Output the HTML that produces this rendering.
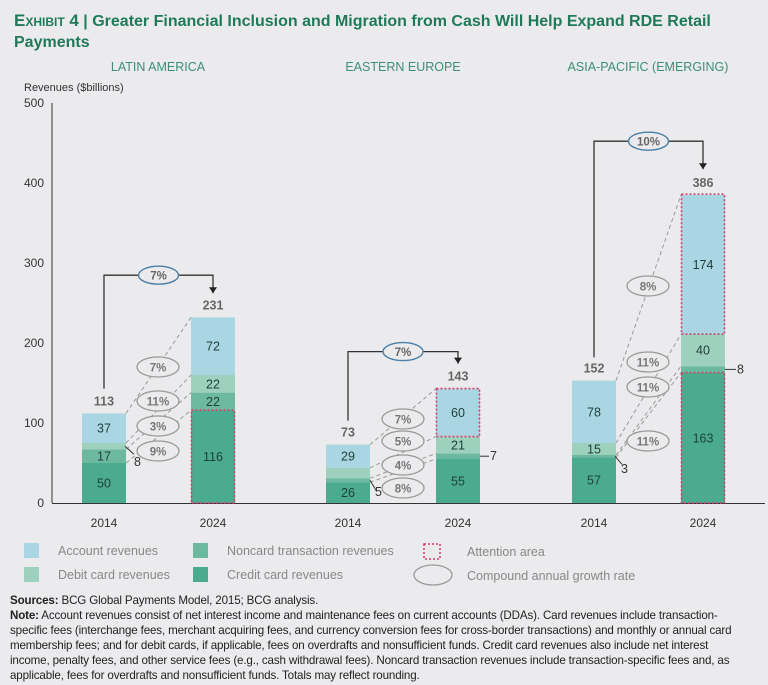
<!DOCTYPE html>
<html><head><meta charset="utf-8">
<style>
body{margin:0;background:#ebebed;font-family:"Liberation Sans",sans-serif;}
#wrap{position:relative;width:768px;height:685px;overflow:hidden;background:#ebebed;}
.title{position:absolute;left:14px;top:10px;width:750px;font-weight:bold;font-size:16px;line-height:21px;color:#1f7a5a;}
.notes{position:absolute;left:10px;top:593px;width:758px;font-size:11.6px;line-height:15px;color:#222;letter-spacing:-0.15px;white-space:nowrap;}
</style></head>
<body>
<div id="wrap">
<div class="title"><span style="font-variant:small-caps;font-size:17px">Exhibit 4</span> | Greater Financial Inclusion and Migration from Cash Will Help Expand RDE Retail Payments</div>
<svg id="chart" width="768" height="600" style="position:absolute;left:0;top:0"></svg>
<div class="notes"><b>Sources:</b> BCG Global Payments Model, 2015; BCG analysis.<br><b>Note:</b> Account revenues consist of net interest income and maintenance fees on current accounts (DDAs). Card revenues include transaction-<br>specific fees (interchange fees, merchant acquiring fees, and currency conversion fees for cross-border transactions) and monthly or annual card<br>membership fees; and for debit cards, if applicable, fees on overdrafts and nonsufficient funds. Credit card revenues also include net interest<br>income, penalty fees, and other service fees (e.g., cash withdrawal fees). Noncard transaction revenues include transaction-specific fees and, as<br>applicable, fees for overdrafts and nonsufficient funds. Totals may reflect rounding.</div>
</div>
<script>
const regions = ["LATIN AMERICA","EASTERN EUROPE","ASIA-PACIFIC (EMERGING)"];
const years = ["2014","2024"];
const credit2014 = [50,26,57];
const noncard2014 = [17,5,3];
const debit2014 = [8,13,15];
const account2014 = [37,29,78];
const credit2024 = [116,55,163];
const noncard2024 = [22,7,8];
const debit2024 = [22,21,40];
const account2024 = [72,60,174];
const totals2014 = [113,73,152];
const totals2024 = [231,143,386];
const totalCagr = ["7%","7%","10%"];
const cagrAccount = ["7%","7%","8%"];
const cagrDebit = ["11%","5%","11%"];
const cagrNoncard = ["3%","4%","11%"];
const cagrCredit = ["9%","8%","11%"];
const yTicks = [0,100,200,300,400,500];

const NS="http://www.w3.org/2000/svg";
const svg=document.getElementById('chart');
function el(t,a,p){const e=document.createElementNS(NS,t);for(const k in a)e.setAttribute(k,a[k]);(p||svg).appendChild(e);return e;}
function txt(x,y,s,a){const e=el('text',Object.assign({x:x,y:y,'font-family':'Liberation Sans, sans-serif','font-size':12,fill:'#333','text-anchor':'middle'},a||{}));e.textContent=s;return e;}
const y0=503, k=0.8;
function Y(v){return y0-v*k;}
const groupX=[[82,191],[326,436],[572,681]];
const bw=44;
const colors=["#4aab8e","#6cb9a0","#9dd0bd","#a9d6e2"];
const regionCx=[158,403,648];
const bracketGap=[43,37,53];
const ax=el('line',{x1:52,y1:y0,x2:52,y2:Y(500),stroke:'#333','stroke-width':1});

const bl=el('line',{x1:52,y1:y0+0.5,x2:765,y2:y0+0.5,stroke:'#333','stroke-width':1});

yTicks.forEach(v=>{const t=txt(44,Y(v)+4,String(v),{'text-anchor':'end'});});
const yt=txt(24,91,"Revenues ($billions)",{'text-anchor':'start','font-size':11});

regions.forEach((r,i)=>{const t=txt(regionCx[i],71,r,{fill:'#3c8f74','font-size':12.5});});

for(let g=0;g<3;g++){
  const sets=[[credit2014[g],noncard2014[g],debit2014[g],account2014[g]],[credit2024[g],noncard2024[g],debit2024[g],account2024[g]]];
  const tops=[[],[]];
  for(let b=0;b<2;b++){
    let cum=0;const x=groupX[g][b];
    sets[b].forEach((v,s)=>{
      const r=el('rect',{x:x,y:Y(cum+v),width:bw,height:v*k,fill:colors[s]});
      
      if(v*k>11){const t=txt(x+bw/2,Y(cum+v/2)+4.5,String(v),{'font-size':12.5,fill:'#1f3f3a'});}
      tops[b].push({bot:Y(cum),top:Y(cum+v)});
      cum+=v;
    });
    const tot=[totals2014,totals2024][b][g];
    const tl=txt(x+bw/2,Y(cum)-8,String(tot),{'font-weight':'bold',fill:'#666','font-size':12.5});
    
    const yl=txt(x+bw/2,527,years[b],{'font-size':12});
    
  }
  for(let s=0;s<4;s++){
    const l=el('line',{x1:groupX[g][0]+bw,y1:tops[0][s].top,x2:groupX[g][1],y2:tops[1][s].top,stroke:'#999','stroke-dasharray':'4,3','stroke-width':1});
    
  }
  const x1=groupX[g][0]+bw/2,x2=groupX[g][1]+bw/2;
  const yb=Y(totals2014[g])-24,ye=Y(totals2024[g])-25;
  const top=Y(totals2024[g])-bracketGap[g];
  const p=el('path',{d:`M${x1},${yb} V${top} H${x2} V${ye}`,fill:'none',stroke:'#333','stroke-width':1.3});
  
  const ar=el('path',{d:`M${x2-4},${ye-6} L${x2+4},${ye-6} L${x2},${ye} Z`,fill:'#222'});
  
  const cx=(x1+x2)/2;
  const o=el('ellipse',{cx:cx,cy:top,rx:20,ry:9,fill:'#ebebed',stroke:'#4a7fa8','stroke-width':1.4});
  
  const ot=txt(cx,top+4.5,totalCagr[g],{'font-weight':'bold',fill:'#666','font-size':11.5});
  
}
const ovalY=[[367,401,426,451],[419,441,465,488],[286,362,387,441]];
const ovalX=[158,403,648];
for(let g=0;g<3;g++){
  const vals=[cagrAccount[g],cagrDebit[g],cagrNoncard[g],cagrCredit[g]];
  vals.forEach((v,i)=>{
    const o=el('ellipse',{cx:ovalX[g],cy:ovalY[g][i],rx:21,ry:10,fill:'#ebebed',stroke:'#999','stroke-width':1.3});
    
    const t=txt(ovalX[g],ovalY[g][i]+4.5,v,{'font-weight':'bold',fill:'#777','font-size':11.5});
    
  });
}
function callout(x1,y1,x2,y2,tx,ty,s){
  const l=el('line',{x1:x1,y1:y1,x2:x2,y2:y2,stroke:'#333','stroke-width':1});
  
  const t=txt(tx,ty,s,{'text-anchor':'start','font-size':12.5});
  
}
const la0=Y(credit2014[0]+noncard2014[0]+debit2014[0]/2);
callout(125,la0,134,la0+8,134,la0+20,String(debit2014[0]));
callout(370,Y(credit2014[1]+noncard2014[1]/2),376,Y(credit2014[1])+8,375,496,String(noncard2014[1]));
callout(480,Y(credit2024[1]+noncard2024[1]/2),489,Y(credit2024[1]+noncard2024[1]/2),490,Y(credit2024[1]+noncard2024[1]/2)+4,String(noncard2024[1]));
callout(615,Y(credit2014[2]+noncard2014[2]/2),622,Y(credit2014[2])+7,621,473,String(noncard2014[2]));
callout(725,Y(credit2024[2]+noncard2024[2]/2),736,Y(credit2024[2]+noncard2024[2]/2),737,Y(credit2024[2]+noncard2024[2]/2)+4,String(noncard2024[2]));
function att(g,b,lo,hi){
  const r=el('rect',{x:groupX[g][b]+0.5,y:Y(hi),width:bw-1,height:(hi-lo)*k,fill:'none',stroke:'#d0406a','stroke-width':1.6,'stroke-dasharray':'2,2'});
  
}
att(0,1,0,credit2024[0]);
att(1,1,credit2024[1]+noncard2024[1]+debit2024[1],totals2024[1]);
att(2,1,credit2024[2]+noncard2024[2]+debit2024[2],totals2024[2]);
att(2,1,0,credit2024[2]);
const leg=[[24,543,colors[3],"Account revenues"],[24,567,colors[2],"Debit card revenues"],[193,543,colors[1],"Noncard transaction revenues"],[193,567,colors[0],"Credit card revenues"]];
leg.forEach(l=>{
  const r=el('rect',{x:l[0],y:l[1],width:15,height:15,fill:l[2]});
  
  const t=txt(l[0]+34,l[1]+12,l[3],{'text-anchor':'start',fill:'#888','font-size':12.5});
  
});
const la=el('rect',{x:424,y:544,width:16,height:15,fill:'none',stroke:'#d0406a','stroke-width':1.5,'stroke-dasharray':'2,2'});

const lt=txt(467,556,"Attention area",{'text-anchor':'start',fill:'#888','font-size':12.5});

const le=el('ellipse',{cx:433,cy:575,rx:19,ry:10,fill:'none',stroke:'#999','stroke-width':1.3});

const lt2=txt(467,580,"Compound annual growth rate",{'text-anchor':'start',fill:'#888','font-size':12.5});

</script>
</body></html>
